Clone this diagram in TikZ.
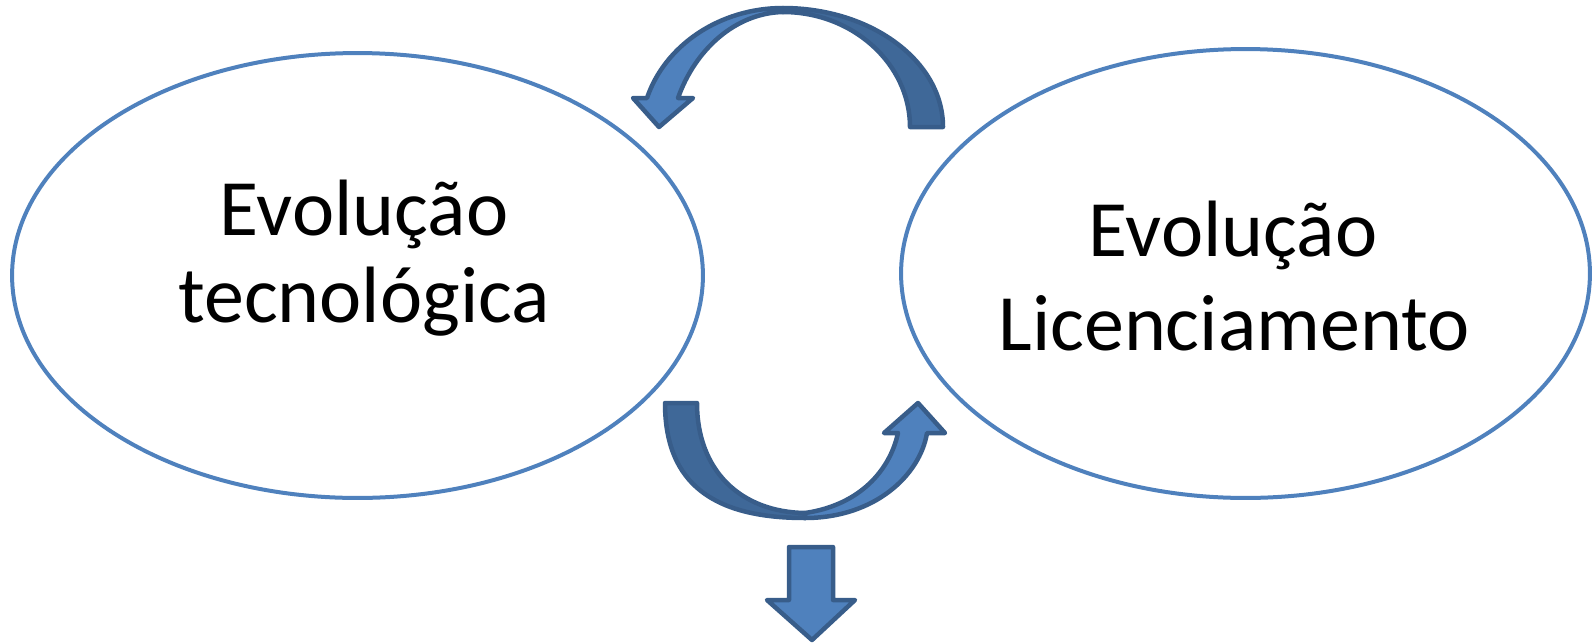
\documentclass[tikz,border=0pt]{standalone}
\usepackage{xcolor}
\usepackage{fontspec}
\setmainfont{Carlito}
\usepackage{tikz}
\usetikzlibrary{shapes.geometric}

\definecolor{ellblue}{HTML}{4F81BD}
\definecolor{arrowedge}{HTML}{385D8A}
\definecolor{arrowback}{HTML}{3F6898}

\begin{document}
\begin{tikzpicture}[x=0.02cm, y=-0.02cm,
  evo/.style={draw=ellblue, line width=0.08cm, ellipse, inner sep=0pt},
  evotext/.style={anchor=base, inner sep=0pt, font=\fontsize{45.5}{52}\selectfont},
  frontarrow/.style={draw=arrowedge, fill=ellblue, line width=0.09cm, line join=round},
  backarrow/.style={draw=arrowedge, fill=arrowback, line width=0.09cm, line join=round}]
\useasboundingbox (0,0) rectangle (1593,643);

\node[evo, minimum width=13.82cm, minimum height=8.9cm] (tecn) at (357.5,275.5) {};
\node[evo, minimum width=13.78cm, minimum height=8.98cm] (lic) at (1245.5,273.5) {};

\node[evotext] (tecn1) at (364,235) {Evolução};
\node[evotext] (tecn2) at (364,322) {tecnológica};
\node[evotext] (lic1) at (1233,256) {Evolução};
\node[evotext] (lic2) at (1234,350) {Licenciamento};

% upper arrow
\filldraw[backarrow] (783,8) .. controls (871,8) and (943,61) .. (943,127)
  -- (910,127) .. controls (910,64) and (853,12) .. (783,12) -- cycle;
\filldraw[frontarrow] (659,127) -- (693,98) -- (678,98)
  .. controls (695,50) and (735,13) .. (783,12) -- (783,8)
  .. controls (720,8) and (665,45) .. (647,98) -- (633,98) -- cycle;

% lower arrow
\filldraw[backarrow] (665,403) -- (697,403)
  .. controls (697,470) and (740,512) .. (805,513) -- (805,518)
  .. controls (715,518) and (665,485) .. (665,403) -- cycle;
\filldraw[frontarrow] (918,403) -- (945,433) -- (927,433)
  .. controls (920,475) and (875,518) .. (805,518) -- (805,513)
  .. controls (860,505) and (890,470) .. (898,433) -- (884,433) -- cycle;

% down arrow
\filldraw[frontarrow] (789,547) -- (833,547) -- (833,600) -- (855,600)
  -- (812,640) -- (767,600) -- (789,600) -- cycle;
\end{tikzpicture}
\end{document}
